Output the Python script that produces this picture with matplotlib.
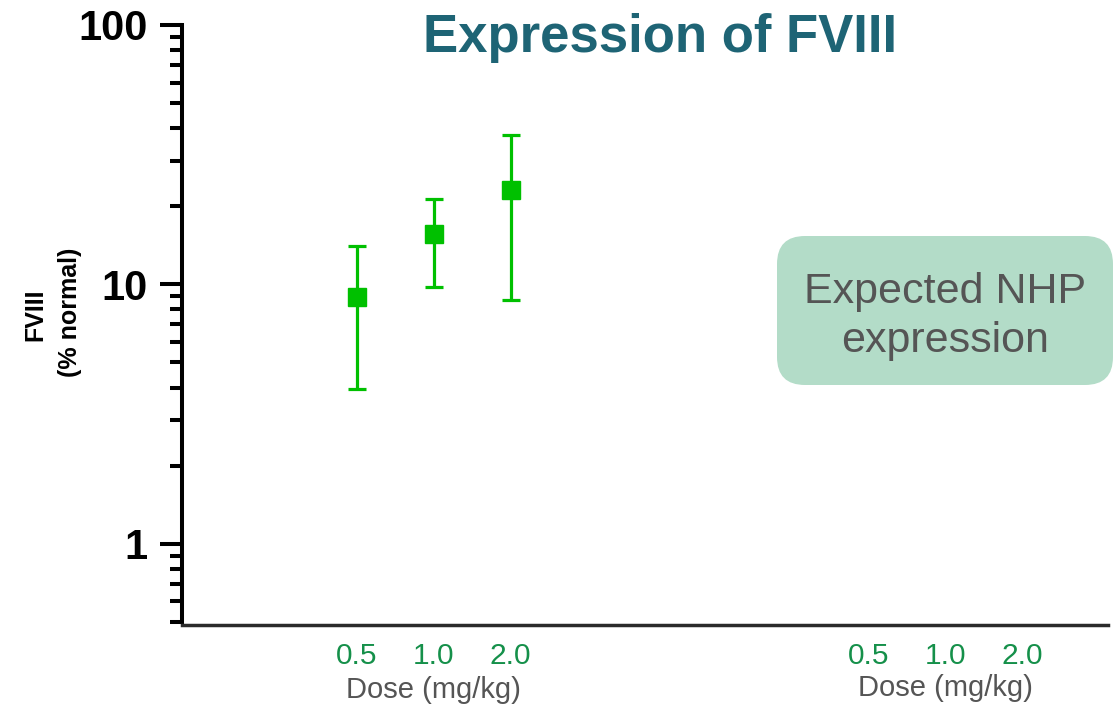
import numpy as np
import matplotlib
matplotlib.use("Agg")
import matplotlib.pyplot as plt
from matplotlib.patches import FancyBboxPatch
from matplotlib.ticker import LogLocator, NullFormatter, FixedLocator

plt.rcParams['font.family'] = ['Liberation Sans', 'DejaVu Sans']

#data-------------------------------------------------------------------------
dose_labels = ["0.5", "1.0", "2.0"]
fviii_mean = [8.9, 15.7, 23.2]
fviii_low = [3.95, 9.75, 8.7]
fviii_high = [14.0, 21.4, 37.8]
ytick_vals = [1, 10, 100]
ytick_labels = ["1", "10", "100"]

#colours
green = "#00c000"
tick_green = "#15904a"
grey_txt = "#555555"
title_col = "#1e6475"
box_col = "#b3dcc8"

#slot positions for the two dose groups (left = measured, right = empty)
pos_left = np.arange(1, len(dose_labels) + 1)
pos_right = pos_left + 6.65

#figure-----------------------------------------------------------------------
fig = plt.figure(figsize=(11.16, 7.06), dpi=100)
ax = fig.add_axes([182/1116, 1 - 621.7/706, (1108 - 182)/1116, (621.7 - 25)/706])

#spines first (set_position resets the axis ticks)
for s in ['top', 'right']:
    ax.spines[s].set_visible(False)
ax.spines['left'].set_linewidth(2.9)
ax.spines['left'].set_color('black')
ax.spines['bottom'].set_linewidth(2.5)
ax.spines['bottom'].set_color('#2b2b2b')
ax.spines['bottom'].set_position(('outward', 2.2))

yerr = [np.array(fviii_mean) - np.array(fviii_low),
        np.array(fviii_high) - np.array(fviii_mean)]
ax.errorbar(pos_left, fviii_mean, yerr=yerr, fmt='s', color=green,
            markersize=13.5, elinewidth=2.3, capsize=6.5, capthick=2.3,
            ecolor=green, zorder=3)

ax.set_yscale('log')
ax.set_ylim(0.5, 100)
ax.set_xlim(-1.27, 10.76)

#y axis
ax.yaxis.set_major_locator(FixedLocator(ytick_vals))
ax.set_yticklabels(ytick_labels, fontsize=30, fontweight='bold')
ax.yaxis.set_minor_locator(LogLocator(base=10, subs=np.arange(2, 10)))
ax.yaxis.set_minor_formatter(NullFormatter())
ax.tick_params(axis='y', which='major', length=16, width=2.9, pad=8.5, color='black')
ax.tick_params(axis='y', which='minor', length=8.6, width=2.9, color='black')

#x axis
ax.set_xticks(list(pos_left) + list(pos_right))
ax.set_xticklabels(dose_labels + dose_labels, fontsize=21.5, color=tick_green)
ax.tick_params(axis='x', which='both', length=0, pad=12.5)

tr = ax.get_xaxis_transform()
ax.text(pos_left.mean(), -0.128, "Dose (mg/kg)", transform=tr, ha='center',
        va='baseline', fontsize=21, color=grey_txt)
ax.text(pos_right.mean(), -0.1245, "Dose (mg/kg)", transform=tr, ha='center',
        va='baseline', fontsize=21, color=grey_txt)

#y label, two bold lines
fig.text(35/1116, 1 - 315/706, "FVIII", rotation=90, ha='center', va='center',
         fontsize=18, fontweight='bold')
fig.text(70/1116, 1 - 312.5/706, "(% normal)", rotation=90, ha='center', va='center',
         fontsize=18, fontweight='bold')

#title
fig.text(660/1116, 1 - 52/706, "Expression of FVIII", ha='center', va='baseline',
         fontsize=38, fontweight='bold', color=title_col)

#expected NHP box
box = FancyBboxPatch((777/1116, 1 - 385/706), 336/1116, 149/706,
                     boxstyle="round,pad=0,rounding_size=%f" % (28/1116),
                     mutation_aspect=1116/706, transform=fig.transFigure,
                     facecolor=box_col, edgecolor='none')
fig.patches.append(box)
fig.text(945/1116, 1 - 303/706, "Expected NHP", ha='center', va='baseline',
         fontsize=31, color=grey_txt)
fig.text(945/1116, 1 - 352/706, "expression", ha='center', va='baseline',
         fontsize=31, color=grey_txt)

fig.savefig("out.png", dpi=100)
